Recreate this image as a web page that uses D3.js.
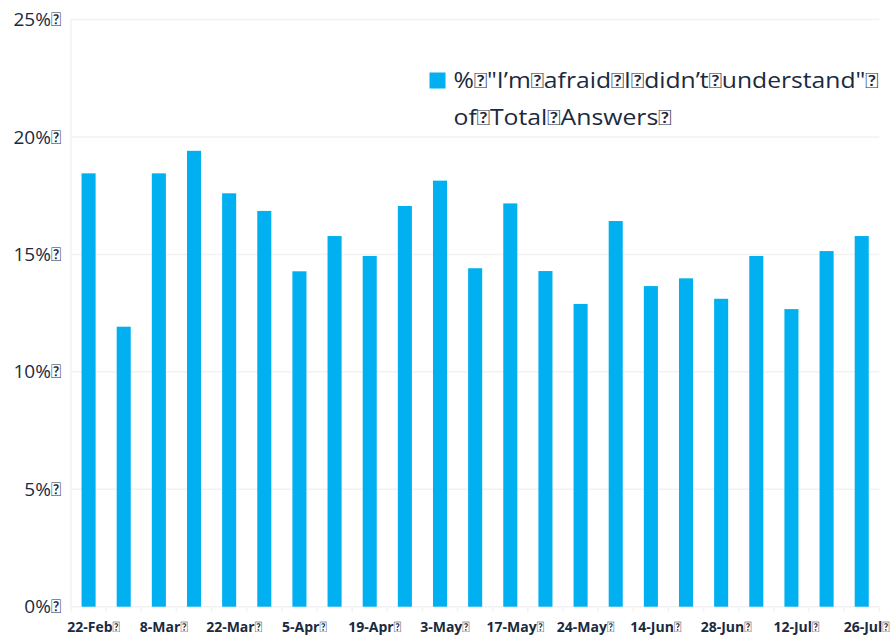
<!DOCTYPE html>
<html>
<head>
<meta charset="utf-8">
<script src="https://cdn.jsdelivr.net/npm/d3@7"></script>
<style>
  body { margin: 0; background: #fff; }
  svg { display: block; }
</style>
</head>
<body>
<svg width="892" height="636"></svg>
<script>
// weeks (only every other one gets a label on the axis)
var weeks = ["22-Feb", "1-Mar", "8-Mar", "15-Mar", "22-Mar", "29-Mar", "5-Apr", "12-Apr",
  "19-Apr", "26-Apr", "3-May", "10-May", "17-May", "20-May", "24-May", "7-Jun",
  "14-Jun", "21-Jun", "28-Jun", "5-Jul", "12-Jul", "19-Jul", "26-Jul"];

// % "I'm afraid I didn't understand" of total answers
var share = [18.45, 11.92, 18.45, 19.41, 17.60, 16.85, 14.28, 15.78, 14.93, 17.06,
  18.14, 14.41, 17.17, 14.29, 12.89, 16.42, 13.65, 13.98, 13.11, 14.93, 12.67, 15.14, 15.78];

var yTicks = [0, 5, 10, 15, 20, 25];

// the source used a symbol-font space (U+F020) that shows up as a missing glyph
var sp = "\uF020";
var legendLines = ["%" + sp + "\"I\u2019m" + sp + "afraid" + sp + "I" + sp + "didn\u2019t" + sp + "understand\"" + sp,
  "of" + sp + "Total" + sp + "Answers" + sp];

var svg = d3.select("svg"),
    margin = {top: 19.5, right: 12.7, bottom: 29.3, left: 71},
    width = +svg.attr("width") - margin.left - margin.right,
    height = +svg.attr("height") - margin.top - margin.bottom,
    g = svg.append("g").attr("transform", "translate(" + margin.left + "," + margin.top + ")");

var x = d3.scaleBand()
    .domain(weeks)
    .range([0, width])
    .paddingInner(0.6)
    .paddingOuter(0.3);

var y = d3.scaleLinear()
    .domain([0, 25])
    .range([height, 0]);

var textColor = "#1b2a3f";
var gridColor = "#f2f2f2";

// split a string so the missing-glyph chars can go in their own tspan (Lato draws them as a boxed "?")
function pieces(s) {
  var out = [];
  s.split(sp).forEach(function(p, i, arr) {
    if (p) out.push({t: p, box: false});
    if (i < arr.length - 1) out.push({t: sp, box: true});
  });
  return out;
}

function fill(sel) {
  sel.selectAll("tspan")
    .data(function(d) { return pieces(d); })
    .enter().append("tspan")
      .attr("font-family", function(d) { return d.box ? "Lato" : "'Open Sans', sans-serif"; })
      .attr("font-weight", function(d) { return d.box ? "normal" : null; })
      .text(function(d) { return d.t; });
}

// horizontal gridlines
g.append("g")
  .selectAll("line")
  .data(yTicks)
  .enter().append("line")
    .attr("x1", 0)
    .attr("x2", width)
    .attr("y1", function(d) { return y(d); })
    .attr("y2", function(d) { return y(d); })
    .attr("stroke", gridColor)
    .attr("stroke-width", 1.5);

// left axis line
g.append("line")
  .attr("x1", 0).attr("x2", 0)
  .attr("y1", 0).attr("y2", height)
  .attr("stroke", gridColor)
  .attr("stroke-width", 1.5);

// y labels
g.append("g")
  .selectAll("text")
  .data(yTicks.map(function(d) { return d + "%" + sp; }))
  .enter().append("text")
    .attr("x", -10)
    .attr("y", function(d, i) { return y(yTicks[i]); })
    .attr("dy", "0.35em")
    .attr("text-anchor", "end")
    .attr("font-size", 19)
    .attr("fill", textColor)
    .call(fill);

// bars
g.append("g")
  .selectAll("rect")
  .data(share)
  .enter().append("rect")
    .attr("x", function(d, i) { return x(weeks[i]); })
    .attr("y", function(d) { return y(d); })
    .attr("width", x.bandwidth())
    .attr("height", function(d) { return y(0) - y(d); })
    .attr("fill", "#00b0f0");

// x tick marks at the category boundaries
var gap = (x.step() - x.bandwidth()) / 2;
var edges = weeks.map(function(d) { return x(d) - gap; }).concat([x(weeks[weeks.length - 1]) + x.bandwidth() + gap]);

g.append("g")
  .selectAll("line")
  .data(edges)
  .enter().append("line")
    .attr("x1", function(d) { return d; })
    .attr("x2", function(d) { return d; })
    .attr("y1", height)
    .attr("y2", height + 5)
    .attr("stroke", gridColor)
    .attr("stroke-width", 1.5);

// x labels, every other week
var labelled = weeks.filter(function(d, i) { return i % 2 === 0; });
g.append("g")
  .selectAll("text")
  .data(labelled.map(function(d) { return d + sp; }))
  .enter().append("text")
    .attr("x", function(d, i) { return x(labelled[i]) + x.bandwidth() / 2 + 5; })
    .attr("y", height + 25)
    .attr("text-anchor", "middle")
    .attr("font-weight", "bold")
    .attr("font-size", 14)
    .attr("fill", textColor)
    .call(fill);

// legend
var legend = svg.append("g").attr("transform", "translate(429.5,72.5)");

legend.append("rect")
  .attr("width", 16)
  .attr("height", 16)
  .attr("fill", "#00b0f0");

var legendWidths = [425, 218];
legend.selectAll("text")
  .data(legendLines)
  .enter().append("text")
    .attr("x", 24)
    .attr("y", function(d, i) { return 15.5 + i * 37; })
    .attr("font-size", 21)
    .attr("fill", textColor)
    .attr("textLength", function(d, i) { return legendWidths[i]; })
    .attr("lengthAdjust", "spacingAndGlyphs")
    .call(fill);
</script>
</body>
</html>
